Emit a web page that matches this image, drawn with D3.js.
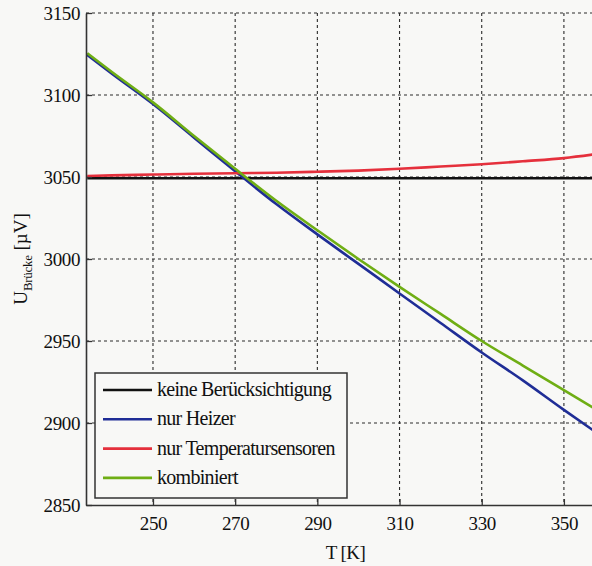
<!DOCTYPE html>
<html>
<head>
<meta charset="utf-8">
<script src="https://cdn.jsdelivr.net/npm/d3@7/dist/d3.min.js"></script>
<style>
  html, body { margin: 0; padding: 0; background: #f8f8f6; }
  svg { display: block; }
  text { font-family: "Liberation Serif", "Times New Roman", serif; fill: #111; }
</style>
</head>
<body>
<svg id="chart" width="592" height="566"></svg>
<script>
// Temperature samples (K)
const temps = [234, 240, 250, 260, 270, 280, 290, 300, 310, 320, 330, 340, 350, 358];

// Bridge voltage (µV) for each compensation variant
const keineBeruecksichtigung = [3049.2, 3049.2, 3049.2, 3049.2, 3049.2, 3049.2, 3049.2, 3049.2, 3049.2, 3049.2, 3049.2, 3049.2, 3049.2, 3049.2];
const nurHeizer = [3124.5, 3113, 3094.5, 3074, 3053.5, 3033.5, 3015, 2997, 2979, 2961, 2943, 2926, 2908, 2894];
const nurTemperatursensoren = [3050.6, 3051, 3051.5, 3052, 3052.3, 3052.6, 3053.2, 3053.9, 3055, 3056.4, 3057.8, 3059.6, 3061.5, 3064];
const kombiniert = [3125.5, 3114, 3095.5, 3075, 3055, 3035.5, 3017.5, 3000, 2983, 2966.5, 2950, 2935, 2920, 2908];

const seriesNames = ["keine Berücksichtigung", "nur Heizer", "nur Temperatursensoren", "kombiniert"];
const seriesColors = ["#111111", "#1f2d96", "#e5303c", "#6fae14"];
const seriesValues = [keineBeruecksichtigung, nurHeizer, nurTemperatursensoren, kombiniert];

const xTicks = [250, 270, 290, 310, 330, 350];
const yTicks = [2850, 2900, 2950, 3000, 3050, 3100, 3150];

const svg = d3.select("#chart");
const plotLeft = 86, plotRight = 605, plotTop = 13, plotBottom = 505;

const x = d3.scaleLinear().domain([233.7, 360]).range([plotLeft, plotRight]);
const y = d3.scaleLinear().domain([2850, 3150]).range([plotBottom, plotTop]);

// dashed grid
const grid = svg.append("g").attr("stroke", "#2a2a2a").attr("stroke-width", 1.1).attr("stroke-dasharray", "3,3");
grid.selectAll("line.v").data(xTicks).join("line").attr("class", "v")
  .attr("x1", d => x(d)).attr("x2", d => x(d)).attr("y1", plotTop).attr("y2", plotBottom);
grid.selectAll("line.h").data(yTicks.filter(d => d > 2850)).join("line").attr("class", "h")
  .attr("x1", plotLeft).attr("x2", plotRight).attr("y1", d => y(d)).attr("y2", d => y(d));

// data lines
svg.append("clipPath").attr("id", "plotClip")
  .append("rect").attr("x", plotLeft).attr("y", plotTop - 2)
  .attr("width", plotRight - plotLeft).attr("height", plotBottom - plotTop + 2);

const line = d3.line().x((d, i) => x(temps[i])).y(d => y(d)).curve(d3.curveMonotoneX);
const lines = svg.append("g").attr("clip-path", "url(#plotClip)");
seriesValues.forEach((vals, i) => {
  lines.append("path").datum(vals)
    .attr("d", line)
    .attr("fill", "none")
    .attr("stroke", seriesColors[i])
    .attr("stroke-width", 2.6)
    .attr("stroke-linejoin", "round");
});

// axes
const fmt = d3.format("d");
const xAxis = d3.axisBottom(x).tickValues(xTicks).tickFormat(fmt).tickSizeInner(-6).tickSizeOuter(0).tickPadding(12);
const yAxis = d3.axisLeft(y).tickValues(yTicks).tickFormat(fmt).tickSizeInner(-6).tickSizeOuter(0).tickPadding(6);

const gx = svg.append("g").attr("transform", `translate(0,${plotBottom})`).call(xAxis);
const gy = svg.append("g").attr("transform", `translate(${plotLeft},0)`).call(yAxis);
[gx, gy].forEach(g => {
  g.select(".domain").attr("stroke", "#333").attr("stroke-width", 1.6);
  g.selectAll(".tick line").attr("stroke", "#333").attr("stroke-width", 1.3);
  g.selectAll(".tick text").attr("font-family", "Liberation Serif").attr("font-size", 19)
    .attr("letter-spacing", -0.4).attr("fill", "#111");
});

// axis titles
svg.append("text").attr("x", (plotLeft + plotRight) / 2).attr("y", 559)
  .attr("text-anchor", "middle").attr("font-size", 19).attr("letter-spacing", -0.6)
  .text("T [K]");

const yt = svg.append("text")
  .attr("transform", `translate(27,${(plotTop + plotBottom) / 2}) rotate(-90)`)
  .attr("text-anchor", "middle").attr("font-size", 19);
yt.append("tspan").text("U");
yt.append("tspan").attr("font-size", 13).attr("dy", 5).attr("letter-spacing", -0.3).text("Brücke");
yt.append("tspan").attr("dy", -5).text(" [µV]");

// legend
const lg = svg.append("g");
lg.append("rect").attr("x", 95).attr("y", 373).attr("width", 252).attr("height", 125)
  .attr("fill", "#f8f8f6").attr("stroke", "#333").attr("stroke-width", 1.5);
seriesNames.forEach((name, i) => {
  const cy = 390 + i * 29.3;
  lg.append("line").attr("x1", 103).attr("x2", 152).attr("y1", cy).attr("y2", cy)
    .attr("stroke", seriesColors[i]).attr("stroke-width", 2.6);
  lg.append("text").attr("x", 157).attr("y", cy + 6).attr("font-size", 20)
    .attr("letter-spacing", -0.7).text(name);
});
</script>
</body>
</html>
